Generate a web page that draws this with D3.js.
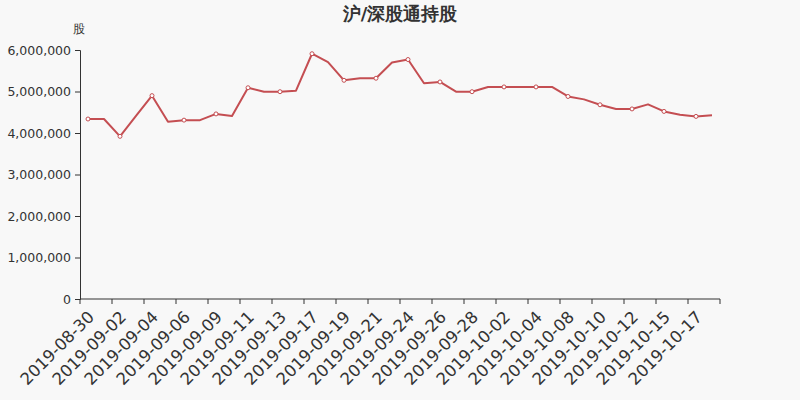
<!DOCTYPE html>
<html><head><meta charset="utf-8">
<script src="https://cdn.jsdelivr.net/npm/d3@7"></script>
<style>
html,body{margin:0;padding:0;background:#f8f8f8;}
svg{display:block;font-family:"DejaVu Sans",sans-serif;}
</style></head>
<body><svg id="c" width="800" height="400"></svg>
<script>
const dates = ["2019-08-30","2019-08-31","2019-09-02","2019-09-03","2019-09-04","2019-09-05","2019-09-06","2019-09-07","2019-09-09","2019-09-10",
"2019-09-11","2019-09-12","2019-09-13","2019-09-14","2019-09-17","2019-09-18","2019-09-19","2019-09-20","2019-09-21","2019-09-23",
"2019-09-24","2019-09-25","2019-09-26","2019-09-27","2019-09-28","2019-09-30","2019-10-02","2019-10-03","2019-10-04","2019-10-05",
"2019-10-08","2019-10-09","2019-10-10","2019-10-11","2019-10-12","2019-10-14","2019-10-15","2019-10-16","2019-10-17","2019-10-18"];
const holdings = [4337000,4337000,3920000,4410000,4900000,4270000,4310000,4310000,4460000,4410000,
5090000,4995000,4995000,5020000,5910000,5710000,5270000,5320000,5320000,5700000,
5770000,5200000,5230000,4995000,4995000,5110000,5110000,5110000,5110000,5110000,
4880000,4810000,4680000,4580000,4580000,4690000,4520000,4440000,4400000,4430000];
const yTicks = [0,1000000,2000000,3000000,4000000,5000000,6000000];
const title = "沪/深股通持股";
const unit = "股";

const svg = d3.select("#c");
const m = {l:80, r:80, t:50, b:101};
const W = 800, H = 400;
const x = d3.scaleBand().domain(dates).range([m.l, W - m.r]);
const y = d3.scaleLinear().domain([0, 6000000]).range([H - m.b, m.t]);

svg.append("text").attr("x", 400).attr("y", 20).attr("text-anchor","middle")
  .attr("font-size", 18).attr("font-weight","bold").attr("fill","#333").text(title);
svg.append("text").attr("x", 79).attr("y", 33).attr("text-anchor","middle")
  .attr("font-size", 12).attr("fill","#333").text(unit);

// y axis
const ya = svg.append("g").attr("transform", `translate(${m.l},0)`)
  .call(d3.axisLeft(y).tickValues(yTicks).tickFormat(d3.format(",")).tickSize(5).tickPadding(4));
ya.selectAll("text").attr("font-size", 12.5).attr("fill","#333").attr("font-family","DejaVu Sans");
ya.selectAll("line,path").attr("stroke","#333");

// x axis: ticks at band boundaries every 2 categories
const xa = svg.append("g").attr("transform", `translate(0,${H - m.b})`);
xa.append("line").attr("x1", m.l).attr("x2", W - m.r).attr("stroke","#333");
const tickIdx = d3.range(0, dates.length + 1, 2);
xa.selectAll("line.t").data(tickIdx).join("line").attr("class","t")
  .attr("x1", i => i < dates.length ? x(dates[i]) : x(dates[dates.length-1]) + x.bandwidth())
  .attr("x2", i => i < dates.length ? x(dates[i]) : x(dates[dates.length-1]) + x.bandwidth())
  .attr("y1", 0).attr("y2", 5).attr("stroke","#333");
const labeled = dates.filter((d,i) => i % 2 === 0);
xa.selectAll("text").data(labeled).join("text")
  .attr("transform", d => `translate(${x(d) + x.bandwidth()/2 + 3},${15}) rotate(-45)`)
  .attr("text-anchor","end").attr("dy","0.35em")
  .attr("font-size", 16.5).attr("fill","#333").text(d => d);

// line
const line = d3.line().x((d,i) => x(dates[i]) + x.bandwidth()/2).y(d => y(d));
svg.append("path").datum(holdings).attr("d", line)
  .attr("fill","none").attr("stroke","#c44e52").attr("stroke-width",2).attr("stroke-linejoin","round");
svg.selectAll("circle.p").data(holdings.map((v,i)=>({v,i})).filter(d => d.i % 2 === 0)).join("circle")
  .attr("cx", d => x(dates[d.i]) + x.bandwidth()/2).attr("cy", d => y(d.v)).attr("r", 2)
  .attr("fill","#fff").attr("stroke","#c44e52").attr("stroke-width",1);
</script></body></html>
